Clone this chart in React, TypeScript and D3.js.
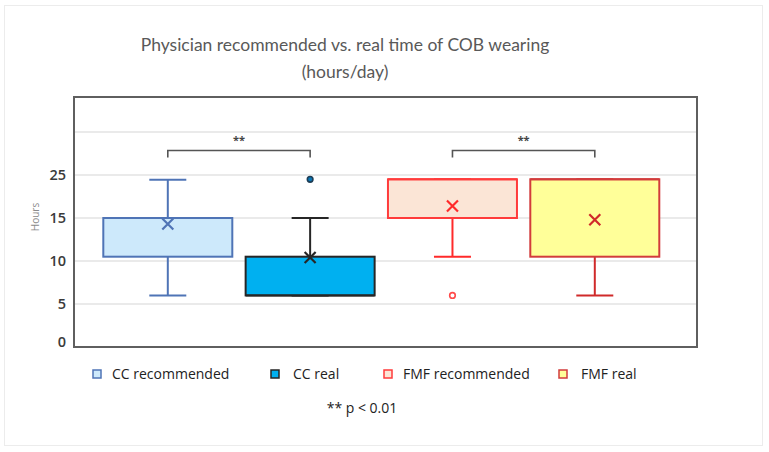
import { useEffect, useRef } from "react";
import * as d3 from "d3";

// box plot values (hours/day)
const series = ["CC recommended", "CC real", "FMF recommended", "FMF real"];
const whiskerLow = [6, 6, 10.5, 6];
const q1 = [10.5, 6, 15, 10.5];
const median = [15, 6, 24, 24];
const q3 = [15, 10.5, 24, 24];
const whiskerHigh = [23.9, 15, 24, 24];
const means = [14.3, 10.4, 17.8, 14.8];
const outliers = [[], [24], [6], []];

const fills = ["#cde9fb", "#00b0f0", "#fbe5d6", "#ffff99"];
const strokes = ["#4f74b6", "#262626", "#ff3b3b", "#d23c3c"];
const markColors = ["#4f74b6", "#262626", "#ff2a2a", "#d02a2a"];

// axis is drawn with the labels the original shows (uneven steps)
const tickValues = [0, 5, 10, 15, 25, 35];
const tickLabels = ["0", "5", "10", "15", "25", ""];

// significance brackets: pairs of series indexes
const brackets = [
  [0, 1],
  [2, 3],
];

export default function App() {
  const ref = useRef<SVGSVGElement>(null);

  useEffect(() => {
    const svg = d3.select(ref.current);
    svg.selectAll("*").remove();

    const left = 74;
    const right = 697;
    const top = 97;
    const bottom = 347;

    const y = d3
      .scaleLinear()
      .domain(tickValues)
      .range(tickValues.map((_, i) => bottom - i * 43));
    const x = d3.scalePoint().domain(series).range([167.8, 594.8]);
    const boxW = 129;
    const capW = 37;

    // outer light border
    svg
      .append("rect")
      .attr("x", 4.5)
      .attr("y", 5.5)
      .attr("width", 758)
      .attr("height", 440)
      .attr("fill", "#fff")
      .attr("stroke", "#ececec");

    // title
    const title = svg
      .append("text")
      .attr("x", 345)
      .attr("text-anchor", "middle")
      .attr("font-family", "Lato, sans-serif")
      .attr("font-size", 17.5)
      .attr("fill", "#595959");
    title.append("tspan").attr("x", 345).attr("y", 51).text("Physician recommended vs. real time of COB wearing");
    title.append("tspan").attr("x", 345).attr("y", 78).text("(hours/day)");

    // grid
    svg
      .append("g")
      .selectAll("line")
      .data(tickValues.slice(1))
      .join("line")
      .attr("x1", left)
      .attr("x2", right)
      .attr("y1", (d) => y(d))
      .attr("y2", (d) => y(d))
      .attr("stroke", "#e3e3e3")
      .attr("stroke-width", 1.5);

    // frame
    svg
      .append("rect")
      .attr("x", left)
      .attr("y", top)
      .attr("width", right - left)
      .attr("height", bottom - top)
      .attr("fill", "none")
      .attr("stroke", "#5f5f5f")
      .attr("stroke-width", 2);

    // y tick labels
    svg
      .append("g")
      .selectAll("text")
      .data(tickValues)
      .join("text")
      .attr("x", 66)
      .attr("y", (d, i) => y(d) + (i === 0 ? -5 : 0))
      .attr("dy", "0.36em")
      .attr("text-anchor", "end")
      .attr("font-family", "Open Sans, sans-serif")
      .attr("font-size", 14.5)
      .attr("font-weight", 600)
      .attr("fill", "#3a3a3a")
      .text((d, i) => tickLabels[i]);

    svg
      .append("text")
      .attr("transform", `translate(39,217) rotate(-90)`)
      .attr("text-anchor", "middle")
      .attr("font-family", "Open Sans, sans-serif")
      .attr("font-size", 10)
      .attr("fill", "#8a8a8a")
      .text("Hours");

    // boxes
    series.forEach((s, i) => {
      const cx = x(s)!;
      const g = svg.append("g");
      const c = markColors[i];
      // whiskers
      g.append("line")
        .attr("x1", cx)
        .attr("x2", cx)
        .attr("y1", y(q1[i]))
        .attr("y2", y(whiskerLow[i]))
        .attr("stroke", c)
        .attr("stroke-width", 2);
      g.append("line")
        .attr("x1", cx)
        .attr("x2", cx)
        .attr("y1", y(q3[i]))
        .attr("y2", y(whiskerHigh[i]))
        .attr("stroke", c)
        .attr("stroke-width", 2);
      [whiskerLow[i], whiskerHigh[i]].forEach((v) => {
        g.append("line")
          .attr("x1", cx - capW / 2)
          .attr("x2", cx + capW / 2)
          .attr("y1", y(v))
          .attr("y2", y(v))
          .attr("stroke", c)
          .attr("stroke-width", 2);
      });
      g.append("rect")
        .attr("x", cx - boxW / 2)
        .attr("y", y(q3[i]))
        .attr("width", boxW)
        .attr("height", y(q1[i]) - y(q3[i]))
        .attr("fill", fills[i])
        .attr("stroke", strokes[i])
        .attr("stroke-width", 2);
      g.append("line")
        .attr("x1", cx - boxW / 2)
        .attr("x2", cx + boxW / 2)
        .attr("y1", y(median[i]))
        .attr("y2", y(median[i]))
        .attr("stroke", strokes[i])
        .attr("stroke-width", 2);
      // mean marker
      const my = y(means[i]);
      const r = 5.5;
      g.append("path")
        .attr("d", `M${cx - r},${my - r}L${cx + r},${my + r}M${cx - r},${my + r}L${cx + r},${my - r}`)
        .attr("stroke", c)
        .attr("stroke-width", 2.2);
      // outliers
      outliers[i].forEach((v) => {
        g.append("circle")
          .attr("cx", cx)
          .attr("cy", y(v))
          .attr("r", 2.8)
          .attr("fill", i === 1 ? "#0a78b8" : "#fff")
          .attr("stroke", i === 1 ? "#1d3d55" : "#ff4a4a")
          .attr("stroke-width", 1.6);
      });
    });

    // significance brackets
    brackets.forEach(([a, b]) => {
      const x1 = x(series[a])!;
      const x2 = x(series[b])!;
      const by = y(30.7);
      svg
        .append("path")
        .attr("d", `M${x1},${by + 7}V${by}H${x2}V${by + 7}`)
        .attr("fill", "none")
        .attr("stroke", "#555")
        .attr("stroke-width", 1.6);
      svg
        .append("text")
        .attr("x", (x1 + x2) / 2)
        .attr("y", by - 6)
        .attr("text-anchor", "middle")
        .attr("font-family", "Open Sans, sans-serif")
        .attr("font-size", 11)
        .attr("font-weight", 700)
        .attr("fill", "#444")
        .text("**");
    });

    // legend
    const legendX = [93, 271, 384, 559];
    const legend = svg
      .append("g")
      .selectAll("g")
      .data(series)
      .join("g")
      .attr("transform", (d, i) => `translate(${legendX[i]},370)`);
    legend
      .append("rect")
      .attr("width", 8)
      .attr("height", 8)
      .attr("fill", (d, i) => fills[i])
      .attr("stroke", (d, i) => strokes[i])
      .attr("stroke-width", 1.5);
    legend
      .append("text")
      .attr("x", (d, i) => (i === 1 || i === 3 ? 22 : 19))
      .attr("y", 4)
      .attr("dy", "0.36em")
      .attr("font-family", "Open Sans, sans-serif")
      .attr("font-size", 14)
      .attr("fill", "#222")
      .text((d) => d);

    svg
      .append("text")
      .attr("x", 362)
      .attr("y", 408)
      .attr("dy", "0.36em")
      .attr("text-anchor", "middle")
      .attr("font-family", "Open Sans, sans-serif")
      .attr("font-size", 14)
      .attr("fill", "#222")
      .text("** p < 0.01");
  }, []);

  return (
    <svg
      ref={ref}
      width={769}
      height={452}
      style={{ position: "absolute", left: 0, top: 0, background: "#fff" }}
    />
  );
}
